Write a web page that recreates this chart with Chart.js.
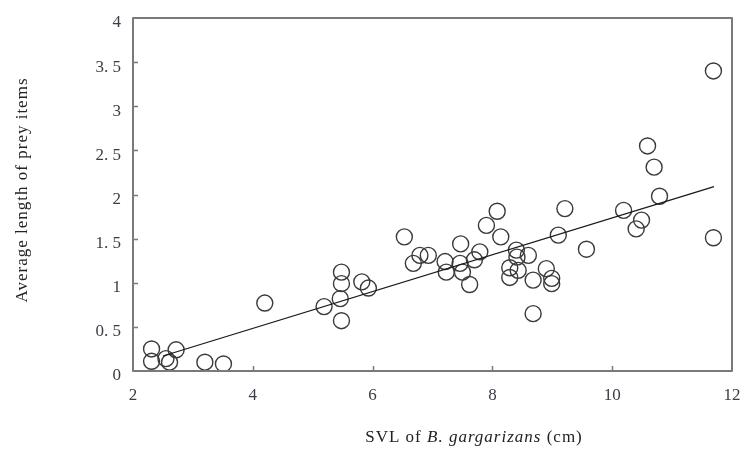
<!DOCTYPE html>
<html>
<head>
<meta charset="utf-8">
<script src="https://cdn.jsdelivr.net/npm/chart.js@4.4.1/dist/chart.umd.min.js"></script>
<style>
  html, body { margin: 0; padding: 0; background: #fff; }
  #wrap { width: 743px; height: 470px; position: relative; }
</style>
</head>
<body>
<div id="wrap"><canvas id="chart"></canvas></div>
<script>
// SVL (cm) vs average prey length
const svl = [2.31, 2.31, 2.55, 2.61, 2.72, 3.20, 3.51, 4.20, 5.19, 5.48, 5.48, 5.46, 5.48, 5.82, 5.93,
  6.53, 6.79, 6.93, 6.68, 7.21, 7.23, 7.47, 7.46, 7.50, 7.79, 7.70, 7.62, 7.90, 8.08, 8.14,
  8.40, 8.41, 8.60, 8.29, 8.29, 8.43, 8.68, 8.68, 8.90, 8.99, 8.99, 9.10, 9.21, 9.57,
  10.19, 10.40, 10.49, 10.59, 10.70, 10.79, 11.69, 11.69];
const preyLen = [0.25, 0.11, 0.14, 0.10, 0.24, 0.10, 0.08, 0.77, 0.73, 1.12, 0.99, 0.82, 0.57, 1.01, 0.94,
  1.52, 1.31, 1.31, 1.22, 1.24, 1.12, 1.44, 1.22, 1.12, 1.35, 1.26, 0.98, 1.65, 1.81, 1.52,
  1.37, 1.29, 1.31, 1.17, 1.06, 1.14, 1.03, 0.65, 1.16, 1.05, 0.99, 1.54, 1.84, 1.38,
  1.82, 1.61, 1.71, 2.55, 2.31, 1.98, 3.40, 1.51];

// regression line end points
const fitX = [2.5, 11.7];
const fitY = [0.17, 2.09];

const yTickLabels = ["0", "0. 5", "1", "1. 5", "2", "2. 5", "3", "3. 5", "4"];
const xTicks = [2, 4, 6, 8, 10, 12];

const serif = "'Liberation Serif', 'DejaVu Serif', serif";

// frame round the plot + inward tick marks + axis titles
const framePlugin = {
  id: "frame",
  afterDraw(chart) {
    const { ctx, chartArea: a, scales } = chart;
    ctx.save();
    ctx.strokeStyle = "#7a7a7a";
    ctx.lineWidth = 2;
    ctx.lineJoin = "round";
    ctx.strokeRect(a.left, a.top, a.right - a.left, a.bottom - a.top);

    ctx.lineWidth = 1.5;
    ctx.beginPath();
    xTicks.slice(1, -1).forEach(v => {
      const px = Math.round(scales.x.getPixelForValue(v)) + 0.5;
      ctx.moveTo(px, a.bottom);
      ctx.lineTo(px, a.bottom - 5);
    });
    for (let i = 1; i < yTickLabels.length - 1; i++) {
      const py = Math.round(scales.y.getPixelForValue(i * 0.5)) + 0.5;
      ctx.moveTo(a.left, py);
      ctx.lineTo(a.left + 5, py);
    }
    ctx.stroke();

    ctx.fillStyle = "#222";
    ctx.letterSpacing = "1px";

    // y title
    ctx.font = "17px " + serif;
    ctx.textAlign = "center";
    ctx.textBaseline = "middle";
    ctx.save();
    ctx.translate(23, 190);
    ctx.rotate(-Math.PI / 2);
    ctx.fillText("Average length of prey items", 0, 0);
    ctx.restore();

    // x title with italic species name
    const parts = [
      { t: "SVL of ", f: "17px " + serif },
      { t: "B. gargarizans", f: "italic 17px " + serif },
      { t: " (cm)", f: "17px " + serif }
    ];
    let total = 0;
    parts.forEach(p => { ctx.font = p.f; p.w = ctx.measureText(p.t).width; total += p.w; });
    let x = 474 - total / 2;
    ctx.textAlign = "left";
    parts.forEach(p => {
      ctx.font = p.f;
      ctx.fillText(p.t, x, 438);
      x += p.w;
    });
    ctx.restore();
  }
};

const points = svl.map((v, i) => ({ x: v, y: preyLen[i] }));
const fitLine = fitX.map((v, i) => ({ x: v, y: fitY[i] }));

new Chart(document.getElementById("chart"), {
  type: "scatter",
  data: {
    datasets: [
      {
        data: fitLine,
        showLine: true,
        borderColor: "#1a1a1a",
        borderWidth: 1.3,
        pointRadius: 0,
        fill: false
      },
      {
        data: points,
        pointRadius: 8,
        pointHoverRadius: 8,
        pointBorderColor: "#3a3a3a",
        pointBackgroundColor: "rgba(0,0,0,0)",
        pointBorderWidth: 1.4
      }
    ]
  },
  options: {
    responsive: true,
    maintainAspectRatio: false,
    animation: false,
    events: [],
    layout: { padding: { top: 18, right: 11, left: 0, bottom: 0 } },
    plugins: { legend: { display: false }, tooltip: { enabled: false } },
    scales: {
      x: {
        type: "linear",
        min: 2, max: 12,
        afterBuildTicks: s => { s.ticks = xTicks.map(v => ({ value: v })); },
        afterFit: s => { s.height = 99; s.paddingLeft = 0; s.paddingRight = 0; },
        grid: { display: false, drawTicks: false },
        border: { display: false },
        ticks: { padding: 14, color: "#3c3c46", font: { family: serif, size: 17 } }
      },
      y: {
        type: "linear",
        min: 0, max: 4,
        afterBuildTicks: s => { s.ticks = yTickLabels.map((t, i) => ({ value: i * 0.5 })); },
        afterFit: s => { s.width = 133; s.paddingTop = 0; s.paddingBottom = 0; },
        grid: { display: false, drawTicks: false },
        border: { display: false },
        ticks: {
          padding: 12,
          labelOffset: 5,
          color: "#3c3c46",
          font: { family: serif, size: 17 },
          callback: (v, i) => yTickLabels[i]
        }
      }
    }
  },
  plugins: [framePlugin]
});
</script>
</body>
</html>
